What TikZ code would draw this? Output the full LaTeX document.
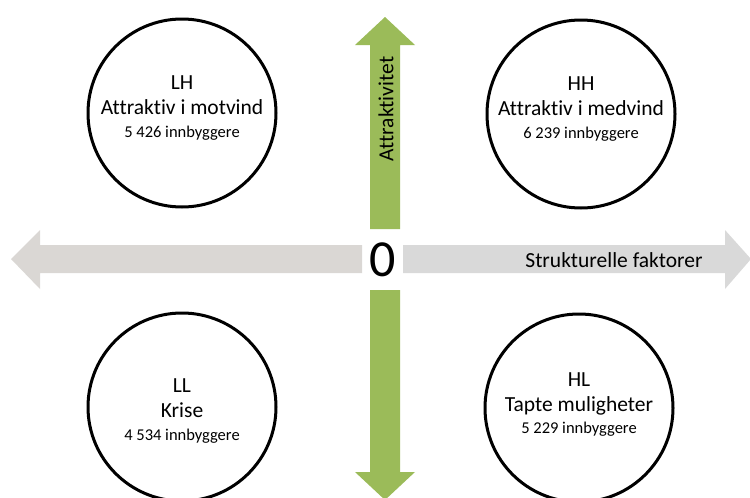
\documentclass[tikz,border=0pt]{standalone}
\usepackage{fontspec}
\setmainfont{Carlito}[Ligatures=NoCommon]
\definecolor{agreen}{HTML}{9BBB59}
\definecolor{agreyL}{HTML}{DAD7D4}
\definecolor{agreyR}{HTML}{D9D9D9}
\begin{document}
\begin{tikzpicture}[x=1pt,y=-1pt,
  quad/.style={circle,draw=black,line width=3pt,minimum size=188pt,inner sep=0pt},
  qtext/.style={align=center,inner sep=0pt,font=\fontsize{21.5}{25}\selectfont},
  pop/.style={font=\fontsize{16.5}{20}\selectfont}]
\useasboundingbox (0,0) rectangle (750,498);
% vertical green arrow (top half)
\fill[agreen] (385,17) -- (415,45) -- (400,45) -- (400,229) -- (370,229) -- (370,45) -- (355,45) -- cycle;
% vertical green arrow (bottom half)
\fill[agreen] (385,500) -- (415,472) -- (400,472) -- (400,290) -- (370,290) -- (370,472) -- (355,472) -- cycle;
% left grey arrow
\fill[agreyL] (11,259) -- (40,230) -- (40,245) -- (362,245) -- (362,273) -- (40,273) -- (40,289) -- cycle;
% right grey arrow
\fill[agreyR] (751,259) -- (725,230) -- (725,245) -- (403,245) -- (403,273) -- (725,273) -- (725,289) -- cycle;
% labels
\node (zero) at (383,260) {\fontsize{52}{52}\selectfont 0};
\node (sf) at (614,260) {\fontsize{21.5}{24}\selectfont Strukturelle faktorer};
\node[rotate=90] (att) at (386,109) {\fontsize{21.5}{24}\selectfont Attraktivitet};
% circles
\node[quad] (LH) at (182,113) {};
\node[quad] (HH) at (581,114) {};
\node[quad] (LL) at (182,407) {};
\node[quad] (HL) at (579,408) {};
\node[qtext] (LHt) at (182,108) {LH\\Attraktiv i motvind\\[-2pt]{\fontsize{16.5}{20}\selectfont 5 426 innbyggere}};
\node[qtext] (HHt) at (581,109) {HH\\Attraktiv i medvind\\[-2pt]{\fontsize{16.5}{20}\selectfont 6 239 innbyggere}};
\node[qtext] (LLt) at (182,411) {LL\\Krise\\[-2pt]{\fontsize{16.5}{20}\selectfont 4 534 innbyggere}};
\node[qtext] (HLt) at (579,405) {HL\\Tapte muligheter\\[-3pt]{\fontsize{16.5}{20}\selectfont 5 229 innbyggere}};
\end{tikzpicture}
\end{document}
